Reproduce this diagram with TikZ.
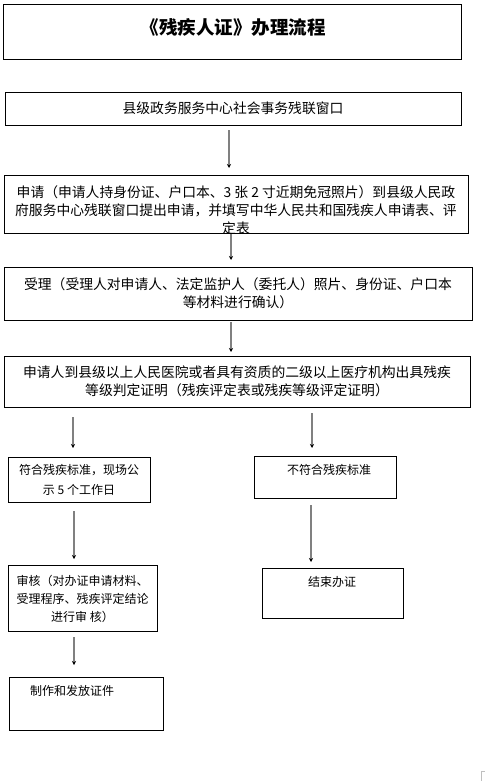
\documentclass[tikz,border=0pt]{standalone}
\usepackage{fontspec}
\setmainfont{Noto Sans CJK SC}
\usetikzlibrary{arrows.meta}

\begin{document}
\begin{tikzpicture}[x=1pt,y=-1pt,
  box/.style={draw, line width=0.8pt, inner sep=0pt, align=center},
  bigtext/.style={font=\fontsize{13.8}{18}\selectfont, align=center, inner sep=0pt},
  smalltext/.style={font=\fontsize{12}{18}\selectfont, align=center, inner sep=0pt},
  flow/.style={draw=gray, line width=1.3pt, -{Stealth[color=black,length=4pt,width=4pt]}}]
\useasboundingbox (0,0) rectangle (485,781);

% Title box
\node[box, minimum width=458pt, minimum height=55pt] (title) at (232,31.5) {};
\node[font=\fontsize{18.5}{22}\selectfont\bfseries, inner sep=0pt] (titletext) at (233,27) {《残疾人证》办理流程};

% Main column (full width boxes)
\node[box, bigtext, minimum width=456pt, minimum height=33pt] (window) at (233,108.5) {县级政务服务中心社会事务残联窗口};

\node[box, minimum width=464pt, minimum height=58pt] (apply) at (236,204) {};
\begin{scope}
\clip (apply.south west) rectangle (apply.north east);
\node[bigtext] (applytext) at (236,210) {申请（申请人持身份证、户口本、3 张 2 寸近期免冠照片）到县级人民政\\府服务中心残联窗口提出申请，并填写中华人民共和国残疾人申请表、评\\定表};
\end{scope}

\node[box, bigtext, minimum width=468pt, minimum height=53pt] (accept) at (238,293.5) {受理（受理人对申请人、法定监护人（委托人）照片、身份证、户口本\\等材料进行确认）};

\node[box, bigtext, minimum width=466pt, minimum height=51pt] (hospital) at (237,381.5) {申请人到县级以上人民医院或者具有资质的二级以上医疗机构出具残疾\\等级判定证明（残疾评定表或残疾等级评定证明）};

% Left branch
\node[box, smalltext, font=\fontsize{12}{20}\selectfont, minimum width=142pt, minimum height=45pt] (meets) at (79,479.5) {符合残疾标准，现场公\\示 5 个工作日};
\node[box, smalltext, minimum width=149pt, minimum height=66pt] (review) at (82.5,598.5) {审核（对办证申请材料、\\受理程序、残疾评定结论\\进行审 核）};
\node[box, minimum width=154pt, minimum height=53pt] (issue) at (86,703.5) {};
\node[smalltext] (issuetext) at (72,691) {制作和发放证件};

% Right branch
\node[box, minimum width=142pt, minimum height=42pt] (fails) at (325,477) {};
\node[smalltext] (failstext) at (329,470) {不符合残疾标准};
\node[box, minimum width=141pt, minimum height=50pt] (finish) at (332.5,593) {};
\node[smalltext] (finishtext) at (332,582) {结束办证};

% Arrows (ends float between the boxes)
\coordinate (a1s) at (229,130);
\coordinate (a1e) at (229,168);
\coordinate (a2s) at (231,234);
\coordinate (a2e) at (231,260);
\coordinate (a3s) at (231,322);
\coordinate (a3e) at (231,352);
\coordinate (l1s) at (73,417);
\coordinate (l1e) at (73,448);
\coordinate (r1s) at (312,413);
\coordinate (r1e) at (312,448);
\coordinate (l2s) at (74,511);
\coordinate (l2e) at (74,559);
\coordinate (r2s) at (311,505);
\coordinate (r2e) at (311,562);
\coordinate (l3s) at (74,637);
\coordinate (l3e) at (74,665);

\draw[flow] (a1s) -- (a1e);
\draw[flow] (a2s) -- (a2e);
\draw[flow] (a3s) -- (a3e);
\draw[flow] (l1s) -- (l1e);
\draw[flow] (r1s) -- (r1e);
\draw[flow] (l2s) -- (l2e);
\draw[flow] (r2s) -- (r2e);
\draw[flow] (l3s) -- (l3e);

% Corner mark
\draw[gray!50, line width=0.6pt] (481,781) -- (481,771.5) -- (485,771.5);

\end{tikzpicture}
\end{document}
